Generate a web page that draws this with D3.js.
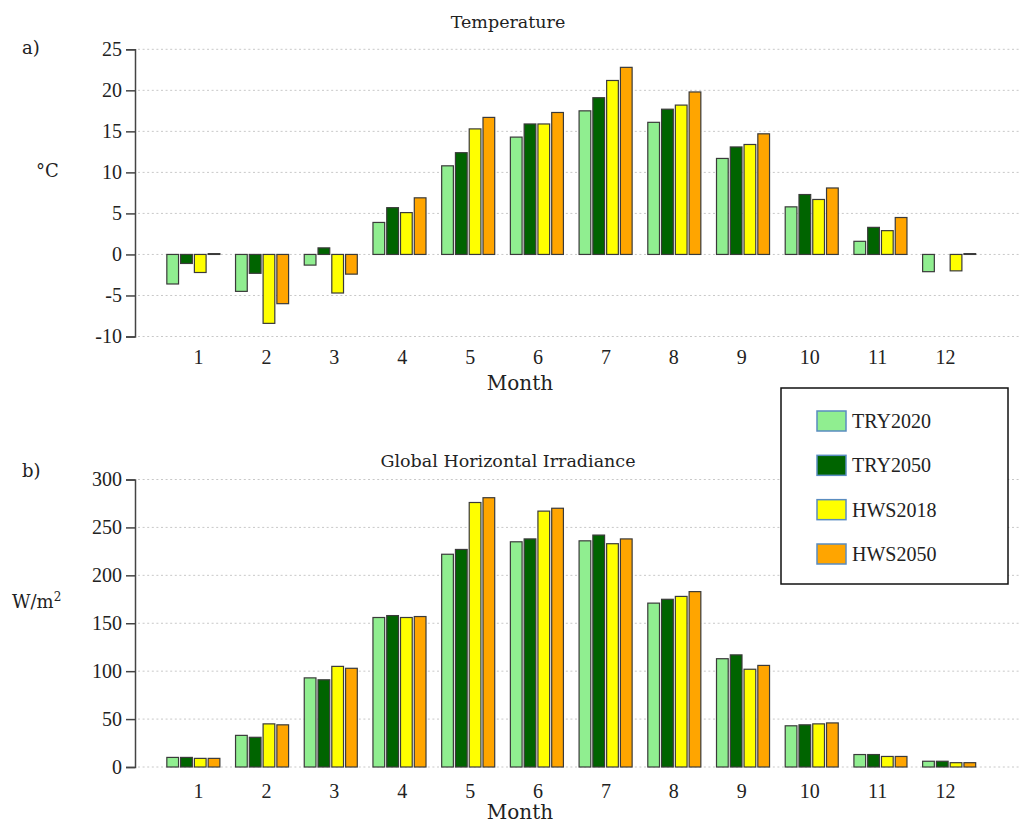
<!DOCTYPE html>
<html>
<head>
<meta charset="utf-8">
<script src="https://cdn.jsdelivr.net/npm/d3@7"></script>
<style>
  body { margin: 0; background: #fff; }
  svg { display: block; }
  .num { font-family: "Liberation Serif", serif; font-size: 20px; fill: #222; }
  .word { font-family: "DejaVu Serif", serif; fill: #222; }
</style>
</head>
<body>
<svg id="chart" width="1021" height="823"></svg>
<script>
// monthly means
const months = ['1', '2', '3', '4', '5', '6', '7', '8', '9', '10', '11', '12'];
const seriesNames = ['TRY2020', 'TRY2050', 'HWS2018', 'HWS2050'];
const seriesColors = ['#90ee90', '#006400', '#ffff00', '#ffa500'];

const tempTRY2020 = [-3.6, -4.5, -1.3, 3.9, 10.8, 14.3, 17.5, 16.1, 11.7, 5.8, 1.6, -2.1];
const tempTRY2050 = [-1.1, -2.3, 0.8, 5.7, 12.4, 15.9, 19.1, 17.7, 13.1, 7.3, 3.3, 0.0];
const tempHWS2018 = [-2.2, -8.4, -4.7, 5.1, 15.3, 15.9, 21.2, 18.2, 13.4, 6.7, 2.9, -2.0];
const tempHWS2050 = [0.1, -6.0, -2.4, 6.9, 16.7, 17.3, 22.8, 19.8, 14.7, 8.1, 4.5, 0.1];

const ghiTRY2020 = [10, 33, 93, 156, 222, 235, 236, 171, 113, 43, 13, 6];
const ghiTRY2050 = [10, 31, 91, 158, 227, 238, 242, 175, 117, 44, 13, 6];
const ghiHWS2018 = [9, 45, 105, 156, 276, 267, 233, 178, 102, 45, 11, 4.5];
const ghiHWS2050 = [9, 44, 103, 157, 281, 270, 238, 183, 106, 46, 11, 4.5];

const tempTicks = [-10, -5, 0, 5, 10, 15, 20, 25];
const ghiTicks = [0, 50, 100, 150, 200, 250, 300];

const svg = d3.select('#chart');

const x = d3.scaleBand().domain(months).range([159, 983.5]).paddingInner(0.228).paddingOuter(0.114);
const xs = d3.scaleBand().domain(seriesNames).range([0, x.bandwidth()]).paddingInner(0.15);
// month labels sit on a slightly tighter spacing than the bar groups
const xLabel = d3.scalePoint().domain(months).range([198, 945]);

const drawPanel = ({ values, ticks, domain, yRange, labelY, monthY, title, titleY, tag, tagY, unit, unitY }) => {
  const y = d3.scaleLinear().domain(domain).range(yRange);
  const g = svg.append('g');

  // dotted grid
  g.selectAll('line.grid').data(ticks).join('line')
    .attr('x1', 138).attr('x2', 1021)
    .attr('y1', d => y(d)).attr('y2', d => y(d))
    .attr('stroke', '#c8c8c8').attr('stroke-width', 1)
    .attr('stroke-dasharray', '2,2.6');

  const yAxis = g.append('g').attr('transform', 'translate(135,0)')
    .call(d3.axisLeft(y).tickValues(ticks).tickSize(9).tickPadding(4).tickFormat(d => String(d)));
  yAxis.selectAll('path, line').attr('stroke', '#444').attr('stroke-width', 1.5);
  yAxis.selectAll('text').attr('class', 'num').attr('font-size', null).attr('font-family', null);

  const rows = months.map((m, i) => ({ month: m, vals: seriesNames.map((s, k) => ({ s, k, v: values[k][i] })) }));
  g.selectAll('g.month').data(rows).join('g')
    .attr('transform', d => `translate(${x(d.month)},0)`)
    .selectAll('rect').data(d => d.vals).join('rect')
    .attr('x', d => xs(d.s))
    .attr('width', xs.bandwidth())
    .attr('y', d => y(Math.max(0, d.v)))
    .attr('height', d => Math.abs(y(d.v) - y(0)))
    .attr('fill', d => seriesColors[d.k])
    .attr('stroke', '#3a3a3a').attr('stroke-width', 1.2);

  const xAxis = g.append('g').attr('transform', `translate(0,${labelY})`)
    .call(d3.axisBottom(xLabel).tickSize(0).tickPadding(0));
  xAxis.select('.domain').remove();
  xAxis.selectAll('text').attr('class', 'num').attr('font-size', null).attr('font-family', null)
    .attr('dy', 0);

  g.append('text').attr('class', 'word').attr('x', 520).attr('y', monthY)
    .attr('text-anchor', 'middle').attr('font-size', 20).text('Month');
  g.append('text').attr('class', 'word').attr('x', 508).attr('y', titleY)
    .attr('text-anchor', 'middle').attr('font-size', 17.5).text(title);
  g.append('text').attr('class', 'word').attr('x', 22).attr('y', tagY)
    .attr('font-size', 18).text(tag);
  const u = g.append('text').attr('class', 'word').attr('x', unit.x).attr('y', unitY)
    .attr('font-size', 18);
  u.append('tspan').text(unit.text);
  if (unit.sup) u.append('tspan').attr('dy', -7).attr('font-size', 12).text(unit.sup);
};

drawPanel({
  values: [tempTRY2020, tempTRY2050, tempHWS2018, tempHWS2050],
  ticks: tempTicks, domain: [-10, 25], yRange: [336.5, 49.3],
  labelY: 364, monthY: 390, title: 'Temperature', titleY: 28,
  tag: 'a)', tagY: 54, unit: { text: '°C', x: 36 }, unitY: 177
});

drawPanel({
  values: [ghiTRY2020, ghiTRY2050, ghiHWS2018, ghiHWS2050],
  ticks: ghiTicks, domain: [0, 300], yRange: [767, 479.5],
  labelY: 798, monthY: 819, title: 'Global Horizontal Irradiance', titleY: 467,
  tag: 'b)', tagY: 477, unit: { text: 'W/m', sup: '2', x: 12 }, unitY: 608
});

// legend
const legend = svg.append('g');
legend.append('rect').attr('x', 781).attr('y', 388).attr('width', 227).attr('height', 196)
  .attr('fill', '#fff').attr('stroke', '#111').attr('stroke-width', 1.5);
const legendY = d3.scalePoint().domain(seriesNames).range([421, 554]);
const item = legend.selectAll('g.item').data(seriesNames).join('g')
  .attr('transform', d => `translate(817,${legendY(d)})`);
item.append('rect').attr('x', 0).attr('y', -10).attr('width', 29).attr('height', 20)
  .attr('fill', (d, i) => seriesColors[i]).attr('stroke', '#5a8cc0').attr('stroke-width', 1.5);
item.append('text').attr('class', 'num').attr('x', 35).attr('y', 7).text(d => d);
</script>
</body>
</html>
